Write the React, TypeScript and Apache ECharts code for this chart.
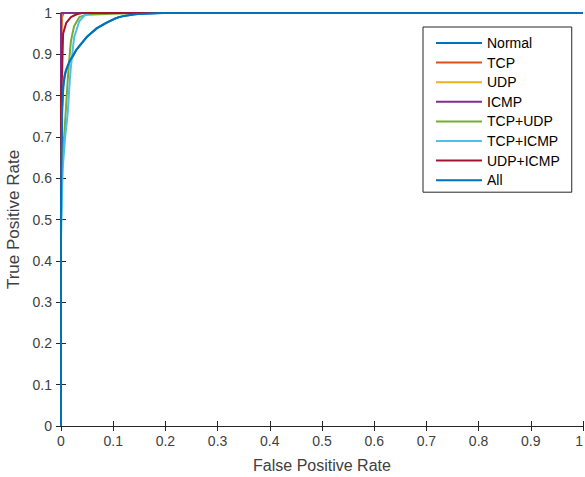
import React, { useEffect, useRef } from "react";
import * as echarts from "echarts";

// ROC curves: [False Positive Rate, True Positive Rate]
const seriesNames = ["Normal", "TCP", "UDP", "ICMP", "TCP+UDP", "TCP+ICMP", "UDP+ICMP", "All"];
const seriesColors = ["#0072BD", "#D95319", "#EDB120", "#7E2F8E", "#77AC30", "#4DBEEE", "#A2142F", "#0072BD"];

const normalRoc = [
  [0, 0], [0, 0.5], [0.002, 0.75], [0.004, 0.82], [0.007, 0.85], [0.011, 0.865], [0.016, 0.88],
  [0.029, 0.91], [0.048, 0.94], [0.067, 0.962], [0.086, 0.976], [0.102, 0.986], [0.12, 0.993],
  [0.15, 0.998], [0.2, 1], [1, 1],
];
const tcpRoc = [[0, 0], [0, 0.9], [0.002, 0.99], [0.005, 1], [1, 1]];
const udpRoc = [[0, 0], [0, 0.95], [0.001, 1], [1, 1]];
const icmpRoc = [[0, 0], [0, 1], [1, 1]];
const tcpUdpRoc = [
  [0, 0], [0, 0.5], [0.003, 0.64], [0.007, 0.72], [0.01, 0.78], [0.013, 0.84], [0.015, 0.875],
  [0.019, 0.932], [0.025, 0.968], [0.035, 0.99], [0.048, 0.996], [0.1, 0.998], [0.15, 1], [1, 1],
];
const tcpIcmpRoc = [
  [0, 0], [0, 0.45], [0.003, 0.62], [0.008, 0.7], [0.013, 0.76], [0.017, 0.84], [0.019, 0.87],
  [0.025, 0.94], [0.035, 0.98], [0.045, 0.994], [0.055, 1], [1, 1],
];
const udpIcmpRoc = [
  [0, 0], [0, 0.8], [0.002, 0.85], [0.003, 0.9], [0.004, 0.95], [0.01, 0.976], [0.019, 0.99],
  [0.03, 0.997], [0.04, 1], [1, 1],
];
const allRoc = [
  [0, 0], [0, 0.55], [0.002, 0.77], [0.005, 0.83], [0.009, 0.86], [0.016, 0.882], [0.03, 0.912],
  [0.05, 0.943], [0.07, 0.964], [0.09, 0.978], [0.11, 0.99], [0.14, 0.997], [0.19, 1], [1, 1],
];
const seriesData = [normalRoc, tcpRoc, udpRoc, icmpRoc, tcpUdpRoc, tcpIcmpRoc, udpIcmpRoc, allRoc];

const FONT = "'Liberation Sans', Arial, Helvetica, sans-serif";
const AXIS_COLOR = "#262626";
const LABEL_COLOR = "#404040";

export default function App() {
  const ref = useRef<HTMLDivElement>(null);
  useEffect(() => {
    if (!ref.current) return;
    const chart = echarts.init(ref.current, undefined, { renderer: "svg" });
    const axisCommon = {
      type: "value" as const,
      min: 0,
      max: 1,
      interval: 0.1,
      splitLine: { show: false },
      axisLine: { show: true, lineStyle: { color: AXIS_COLOR, width: 1 } },
      axisTick: { show: true, inside: true, length: 5, lineStyle: { color: AXIS_COLOR } },
    };
    chart.setOption({
      animation: false,
      backgroundColor: "#fff",
      textStyle: { fontFamily: FONT },
      grid: { left: 61, right: 2, top: 13, bottom: 51, containLabel: false, outerBoundsMode: "none" },
      xAxis: [
        {
          ...axisCommon,
          position: "bottom",
          axisLabel: {
            fontSize: 14,
            color: LABEL_COLOR,
            margin: 8,
            fontFamily: FONT,
            alignMaxLabel: "right",
          },
          name: "False Positive Rate",
          nameLocation: "middle",
          nameGap: 31,
          nameTextStyle: { fontSize: 16, color: LABEL_COLOR, fontFamily: FONT },
        },
        { ...axisCommon, position: "top", axisLabel: { show: false } },
      ],
      yAxis: [
        {
          ...axisCommon,
          position: "left",
          axisLabel: { fontSize: 14, color: LABEL_COLOR, margin: 9, fontFamily: FONT },
          name: "True Positive Rate",
          nameLocation: "middle",
          nameGap: 35,
          nameTextStyle: { fontSize: 17, color: LABEL_COLOR, fontFamily: FONT },
        },
        { ...axisCommon, position: "right", axisLabel: { show: false } },
      ],
      legend: {
        orient: "vertical",
        left: 423,
        top: 27,
        icon: "rect",
        itemWidth: 46,
        itemHeight: 2,
        itemGap: 3.6,
        padding: [8, 12, 4, 13],
        backgroundColor: "#fff",
        borderColor: AXIS_COLOR,
        borderWidth: 1,
        textStyle: { fontSize: 14, color: "#000", lineHeight: 16, fontFamily: FONT },
        data: seriesNames,
      },
      series: seriesNames.map((name, i) => ({
        name,
        type: "line",
        data: seriesData[i],
        symbol: "none",
        showSymbol: false,
        xAxisIndex: 0,
        yAxisIndex: 0,
        color: seriesColors[i],
        lineStyle: { width: 2, color: seriesColors[i] },
        z: 2 + i,
      })),
    });
    return () => chart.dispose();
  }, []);
  return (
    <div
      ref={ref}
      style={{ position: "absolute", left: 0, top: 0, width: 585, height: 477 }}
    />
  );
}
